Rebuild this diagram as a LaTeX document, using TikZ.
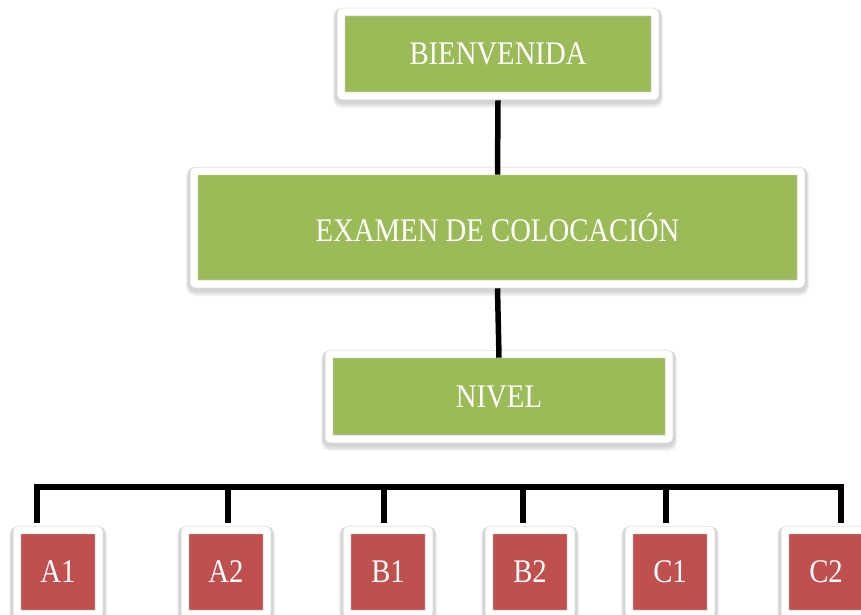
\documentclass[tikz,border=0pt]{standalone}
\usepackage{fontspec}
\setmainfont[FakeStretch=0.87]{Liberation Serif}
\definecolor{levelgreen}{RGB}{155,187,89}
\definecolor{levelred}{RGB}{192,80,77}

\tikzset{
  softshadow/.style={preaction={draw=black, opacity=#1, line width=12pt, transform canvas={yshift=-2pt}},
    preaction={draw=black, opacity=#1, line width=14pt, transform canvas={yshift=-3pt}},
    preaction={draw=black, opacity=#1, line width=16pt, transform canvas={yshift=-4pt}}},
  framebox/.style={softshadow=0.06, draw=black!12, double=white, line width=0.6pt, double distance=7pt,
    rounded corners=2pt, inner sep=0pt, text=white, font=\fontsize{33}{36}\selectfont},
  greenbox/.style={framebox, fill=levelgreen},
  redbox/.style={framebox, fill=levelred, minimum width=82pt, minimum height=84pt},
  link/.style={line width=5.5pt, black},
}

\begin{document}
\begin{tikzpicture}[x=1pt, y=-1pt]
    \useasboundingbox (0,0) rectangle (861,615);

    \node[greenbox, minimum width=314pt, minimum height=84pt] (bien) at (498,54) {BIENVENIDA};
    \node[greenbox, minimum width=607pt, minimum height=113pt] (exam) at (497.5,227.5) {EXAMEN DE COLOCACIÓN};
    \node[greenbox, minimum width=340pt, minimum height=85pt] (nivel) at (499,396.5) {NIVEL};

    \foreach \lvl/\bx in {A1/58, A2/226, B1/388, B2/530, C1/670, C2/826}
        \node[redbox] (\lvl) at (\bx,572) {\lvl};

    \draw[link] ([yshift=-4pt]bien.south) -- ([yshift=-4pt]exam.north);
    \draw[link] ([yshift=-4pt]exam.south) -- ([yshift=-4pt]nivel.north);

    % bus to the levels
    \foreach \lvl/\x in {A1/37, A2/228, B1/384, B2/523, C1/666, C2/841}
        \coordinate (t\lvl) at (\x,487);
    \draw[link] ([yshift=7pt]tA1 |- A1.north) -- (tA1) -- (tC2) -- ([yshift=7pt]tC2 |- C2.north);
    \foreach \lvl in {A2, B1, B2, C1}
        \draw[link] (t\lvl) -- ([yshift=7pt]t\lvl |- \lvl.north);
\end{tikzpicture}
\end{document}
